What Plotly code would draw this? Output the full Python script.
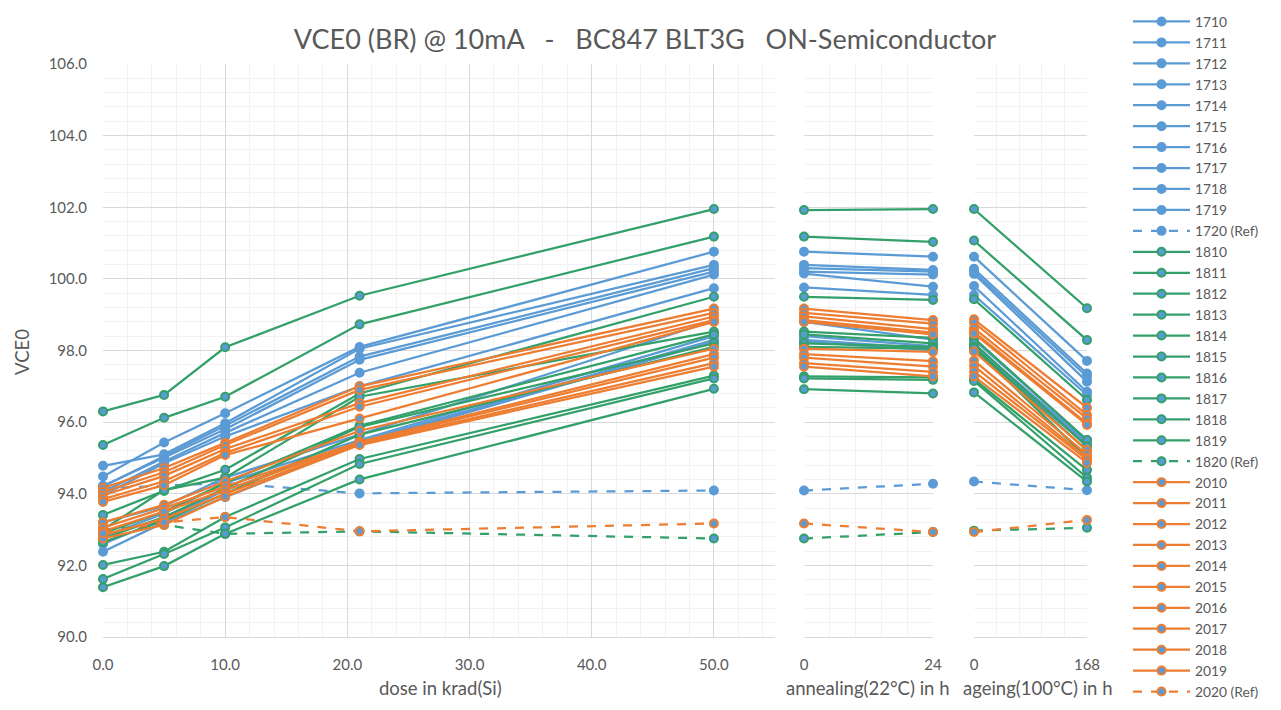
import plotly.graph_objects as go

# ---- measurement grid ----
dose_krad = [0, 5, 10, 21, 50]
anneal_h = [0, 24]
ageing_h = [0, 168]

# ---- series names ----
names_17 = ["1710", "1711", "1712", "1713", "1714", "1715", "1716", "1717", "1718", "1719", "1720 (Ref)"]
names_18 = ["1810", "1811", "1812", "1813", "1814", "1815", "1816", "1817", "1818", "1819", "1820 (Ref)"]
names_20 = ["2010", "2011", "2012", "2013", "2014", "2015", "2016", "2017", "2018", "2019", "2020 (Ref)"]

# ---- VCE0 values: irradiation steps ----
dose_17 = [
    [94.48, 95.43, 96.25, 98.10, 100.76],
    [94.78, 95.10, 95.97, 98.05, 100.39],
    [94.20, 95.05, 95.90, 97.83, 100.30],
    [94.22, 95.00, 95.80, 97.74, 100.20],
    [94.05, 94.90, 95.70, 97.38, 100.12],
    [93.95, 94.85, 95.60, 97.00, 99.74],
    [93.20, 93.65, 94.45, 95.65, 98.83],
    [92.80, 93.45, 94.30, 95.50, 98.40],
    [92.60, 93.30, 94.10, 95.45, 98.30],
    [92.38, 93.20, 93.90, 95.40, 98.25],
    [94.15, 94.22, 94.30, 94.01, 94.09],
]
dose_18 = [
    [96.30, 96.76, 98.09, 99.53, 101.95],
    [95.36, 96.12, 96.71, 98.73, 101.18],
    [93.41, 94.08, 94.67, 96.80, 99.50],
    [93.00, 94.10, 94.45, 96.71, 98.53],
    [92.90, 93.50, 94.30, 95.90, 98.45],
    [92.75, 93.35, 94.15, 95.87, 98.20],
    [92.65, 93.25, 94.00, 95.65, 98.10],
    [92.01, 92.38, 93.35, 94.97, 97.30],
    [91.62, 92.32, 93.06, 94.83, 97.22],
    [91.39, 91.98, 92.88, 94.40, 96.93],
    [93.00, 93.13, 92.88, 92.95, 92.75],
]
dose_20 = [
    [94.16, 94.72, 95.42, 97.00, 99.17],
    [94.05, 94.60, 95.36, 96.90, 99.05],
    [93.95, 94.50, 95.25, 96.53, 98.95],
    [93.85, 94.35, 95.14, 96.43, 98.85],
    [93.77, 94.24, 95.08, 96.10, 98.80],
    [93.20, 93.69, 94.34, 95.76, 98.05],
    [93.05, 93.60, 94.20, 95.45, 97.90],
    [92.95, 93.50, 94.10, 95.42, 97.80],
    [92.85, 93.30, 94.00, 95.39, 97.65],
    [92.75, 93.13, 93.92, 95.36, 97.55],
    [92.90, 93.20, 93.35, 92.95, 93.17],
]

# ---- VCE0 values: annealing at 22 °C ----
anneal_17 = [
    [100.76, 100.62], [100.39, 100.25], [100.30, 100.20], [100.20, 100.12],
    [100.15, 99.78], [99.76, 99.55], [98.80, 98.30], [98.40, 98.12],
    [98.30, 98.05], [98.25, 98.00], [94.09, 94.28],
]
anneal_18 = [
    [101.92, 101.95], [101.18, 101.03], [99.50, 99.41], [98.53, 98.35],
    [98.45, 98.20], [98.20, 98.10], [98.10, 98.05], [97.28, 97.25],
    [97.22, 97.18], [96.92, 96.80], [92.75, 92.93],
]
anneal_20 = [
    [99.17, 98.85], [99.05, 98.75], [98.95, 98.60], [98.85, 98.50],
    [98.80, 98.45], [98.05, 97.96], [97.90, 97.70], [97.80, 97.55],
    [97.65, 97.40], [97.55, 97.28], [93.17, 92.93],
]

# ---- VCE0 values: ageing at 100 °C ----
ageing_17 = [
    [100.62, 97.71], [100.28, 97.36], [100.20, 97.27], [100.14, 97.13],
    [99.80, 96.85], [99.55, 96.76], [98.30, 95.50], [98.15, 95.45],
    [98.08, 95.40], [98.02, 95.35], [94.34, 94.10],
]
ageing_18 = [
    [101.95, 99.18], [101.07, 98.29], [99.43, 96.62], [98.35, 95.50],
    [98.20, 95.32], [98.10, 95.20], [98.07, 95.00], [97.20, 94.66],
    [97.15, 94.45], [96.83, 94.34], [92.97, 93.05],
]
ageing_20 = [
    [98.87, 96.40], [98.78, 96.20], [98.62, 96.10], [98.52, 95.96],
    [98.47, 95.92], [97.97, 95.22], [97.72, 95.10], [97.57, 95.00],
    [97.42, 94.95], [97.28, 94.86], [92.93, 93.27],
]

BLUE = "#5B9BD5"
GREEN = "#33A06A"
ORANGE = "#ED7D31"
TEXT = "#595959"
FONT = "Lato, Liberation Sans, sans-serif"

groups = [
    (names_17, dose_17, anneal_17, ageing_17, BLUE),
    (names_18, dose_18, anneal_18, ageing_18, GREEN),
    (names_20, dose_20, anneal_20, ageing_20, ORANGE),
]

fig = go.Figure()
for names, d, a, g, color in groups:
    for i, name in enumerate(names):
        dash = "dash" if "Ref" in name else "solid"
        line = dict(color=color, width=2.25, dash=dash)
        marker = dict(size=8, color=BLUE, line=dict(color=color, width=2))
        for xs, ys, xa, show in (
            (dose_krad, d[i], "x", True),
            (anneal_h, a[i], "x2", False),
            (ageing_h, g[i], "x3", False),
        ):
            fig.add_trace(go.Scatter(
                x=xs, y=ys, xaxis=xa, yaxis="y", name=name,
                mode="lines+markers", line=line, marker=marker,
                showlegend=show, cliponaxis=False,
            ))

# pixel layout of the plotting area
L, R, T, B = 103, 1087, 64, 637
W = R - L
H = B - T

def px(x):
    return (x - L) / W

def py(y):
    return (B - y) / H

grid = "#D9D9D9"
minor_grid = "#F2F2F2"
tick_font = dict(family=FONT, size=15, color=TEXT)

common_x = dict(
    showgrid=True, gridcolor=grid, gridwidth=1, zeroline=False,
    showline=True, linecolor=grid, linewidth=1,
    ticks="", tickfont=tick_font, ticklabelstandoff=14, anchor="y",
    fixedrange=True,
)

fig.update_layout(
    width=1281, height=710,
    margin=dict(l=L, r=1281 - R, t=T, b=710 - B),
    paper_bgcolor="white", plot_bgcolor="white",
    font=dict(family=FONT, color=TEXT),
    title=dict(
        text="VCE0 (BR) @ 10mA\u00a0\u00a0\u00a0-\u00a0\u00a0\u00a0BC847 BLT3G\u00a0\u00a0\u00a0ON-Semiconductor",
        x=645 / 1281, xanchor="center", xref="container",
        y=1 - 40 / 710, yanchor="middle", yref="container",
        font=dict(family=FONT, size=27, color=TEXT),
    ),
    xaxis=dict(
        common_x, domain=[0, px(775)], range=[0, 55],
        tick0=0, dtick=10, tickformat=".1f",
        minor=dict(dtick=2, showgrid=True, gridcolor=minor_grid, ticks=""),
    ),
    xaxis2=dict(
        common_x, domain=[px(804), px(933)], range=[0, 24],
        tick0=0, dtick=24, tickformat="d",
        minor=dict(dtick=4.8, showgrid=True, gridcolor=minor_grid, ticks=""),
    ),
    xaxis3=dict(
        common_x, domain=[px(974), 1.0], range=[0, 168],
        tick0=0, dtick=168, tickformat="d",
        minor=dict(dtick=33.6, showgrid=True, gridcolor=minor_grid, ticks=""),
    ),
    yaxis=dict(
        range=[90, 106], tick0=90, dtick=2, tickformat=".1f",
        showgrid=True, gridcolor=grid, zeroline=False, showline=False,
        ticks="", tickfont=tick_font, ticklabelstandoff=15, anchor="x",
        minor=dict(dtick=0.4, showgrid=True, gridcolor=minor_grid, ticks=""),
        fixedrange=True,
    ),
    legend=dict(
        xref="container", yref="container",
        x=1128 / 1281, y=1 - 6 / 710, xanchor="left", yanchor="top",
        font=dict(family=FONT, size=13.8, color=TEXT),
        itemwidth=57, tracegroupgap=0, bgcolor="rgba(0,0,0,0)",
        maxheight=710,
    ),
    showlegend=True,
)

axis_title_font = dict(family=FONT, size=18.5, color=TEXT)
for text, xc in (
    ("dose in krad(Si)", 440),
    ("annealing(22°C) in h", 867),
    ("ageing(100°C) in h", 1037),
):
    fig.add_annotation(
        text=text, xref="paper", yref="paper", x=px(xc), y=py(688),
        xanchor="center", yanchor="middle", showarrow=False, font=axis_title_font,
    )
fig.add_annotation(
    text="VCE0", xref="paper", yref="paper", x=px(22), y=py(352),
    xanchor="center", yanchor="middle", showarrow=False, textangle=-90,
    font=axis_title_font,
)

fig.write_html("out.html")
